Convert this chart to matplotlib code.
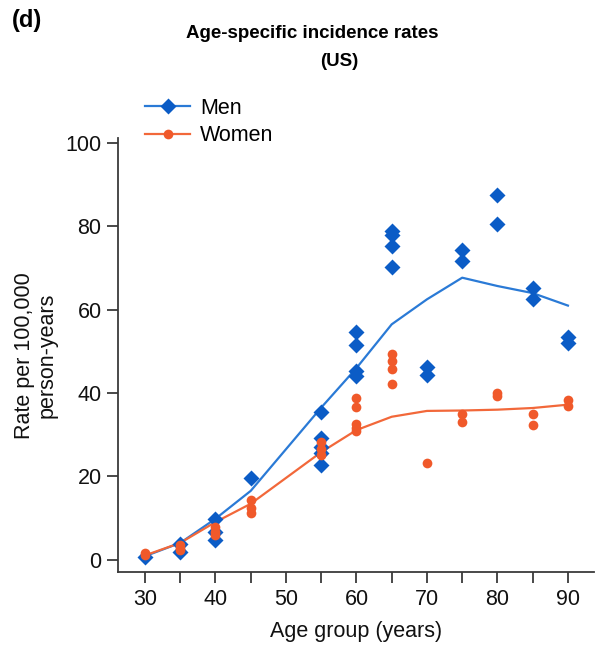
import matplotlib
matplotlib.use("Agg")
import matplotlib.pyplot as plt
from matplotlib.lines import Line2D

plt.rcParams['font.family'] = ['Liberation Sans', 'DejaVu Sans']

# line (fitted rate) per age group
line_ages = [30, 35, 40, 45, 55, 60, 65, 70, 75, 80, 85, 90]
men_line = [0.8, 4.0, 9.8, 16.5, 36.5, 46.0, 56.5, 62.5, 67.7, 65.7, 64.0, 61.0]
women_line = [1.0, 4.0, 9.0, 13.4, 25.8, 31.1, 34.3, 35.7, 35.8, 36.0, 36.4, 37.2]

# individual points
men_pts = {
    30: [0.6],
    35: [3.8, 1.8],
    40: [9.8, 6.6, 4.8],
    45: [19.7],
    55: [35.4, 29.2, 27.0, 25.5, 22.6],
    60: [54.7, 51.5, 45.3, 44.1],
    65: [78.9, 78.0, 75.3, 70.3],
    70: [46.3, 44.4],
    75: [74.3, 71.7],
    80: [87.5, 80.6],
    85: [65.3, 62.7],
    90: [53.5, 52.0],
}
women_pts = {
    30: [1.6, 1.2],
    35: [3.5, 2.8, 2.2],
    40: [7.8, 6.6, 6.0],
    45: [14.2, 12.5, 11.3],
    55: [28.2, 26.6, 25.0],
    60: [38.9, 36.7, 32.5, 31.5, 30.9],
    65: [49.3, 47.6, 45.7, 42.1],
    70: [23.3],
    75: [34.9, 33.1],
    80: [40.1, 39.3],
    85: [34.9, 32.3],
    90: [38.3, 36.9],
}

blue_line = '#2a7ad6'
blue_mk = '#0b5cc6'
orange_line = '#f2683a'
orange_mk = '#f0592a'
axis_col = '#3a3a3a'
fs = 15.5

fig = plt.figure(figsize=(5.97, 6.52), dpi=100)
ax = fig.add_axes([0.198, 0.122, 0.797, 0.666])

ax.plot(line_ages, men_line, color=blue_line, lw=1.6, zorder=2)
ax.plot(line_ages, women_line, color=orange_line, lw=1.6, zorder=2)

mx = [a for a, v in men_pts.items() for _ in v]
my = [y for v in men_pts.values() for y in v]
wx = [a for a, v in women_pts.items() for _ in v]
wy = [y for v in women_pts.values() for y in v]
ax.plot(mx, my, ls='none', marker='D', ms=8.5, color=blue_mk, mec='none', zorder=3)
ax.plot(wx, wy, ls='none', marker='o', ms=7, color=orange_mk, mec='none', zorder=4)

ax.set_xlim(26.2, 93.7)
ax.set_ylim(-3.1, 101.2)
ax.set_xticks(range(30, 95, 5))
ax.set_xticklabels([str(t) if t % 10 == 0 else '' for t in range(30, 95, 5)])
ax.set_yticks(range(0, 101, 20))

for s in ['top', 'right']:
    ax.spines[s].set_visible(False)
for s in ['left', 'bottom']:
    ax.spines[s].set_color(axis_col)
    ax.spines[s].set_linewidth(1.3)
ax.tick_params(axis='both', direction='out', length=8, width=1.3, color=axis_col,
               labelsize=fs, labelcolor='#111111', pad=4)

ax.set_xlabel('Age group (years)', fontsize=fs, color='#111111')
ax.xaxis.set_label_coords(0.5, -0.112)
ax.set_ylabel('Rate per 100,000\nperson-years', fontsize=fs, color='#111111',
              linespacing=1.1)
ax.yaxis.label.set_va('center')
ax.yaxis.set_label_coords(-0.173, 0.5)

handles = [
    Line2D([], [], color=blue_line, lw=1.6, marker='D', ms=8.5, mfc=blue_mk, mec='none'),
    Line2D([], [], color=orange_line, lw=1.6, marker='o', ms=7, mfc=orange_mk, mec='none'),
]
fig.legend(handles, ['Men', 'Women'], loc='upper left', bbox_to_anchor=(0.243, 0.850),
           frameon=False, fontsize=fs, handlelength=2.1, handletextpad=0.45,
           labelspacing=0.3, borderpad=0, borderaxespad=0)

fig.text(312 / 597, 1 - 33 / 652, 'Age-specific incidence rates', fontsize=13.5,
         fontweight='bold', ha='center', va='center')
fig.text(339 / 597, 1 - 62 / 652, '(US)', fontsize=13.5, fontweight='bold',
         ha='center', va='center')
fig.text(12 / 597, 1 - 20 / 652, '(d)', fontsize=17, fontweight='bold',
         ha='left', va='center')

fig.savefig('out.png', dpi=100)
